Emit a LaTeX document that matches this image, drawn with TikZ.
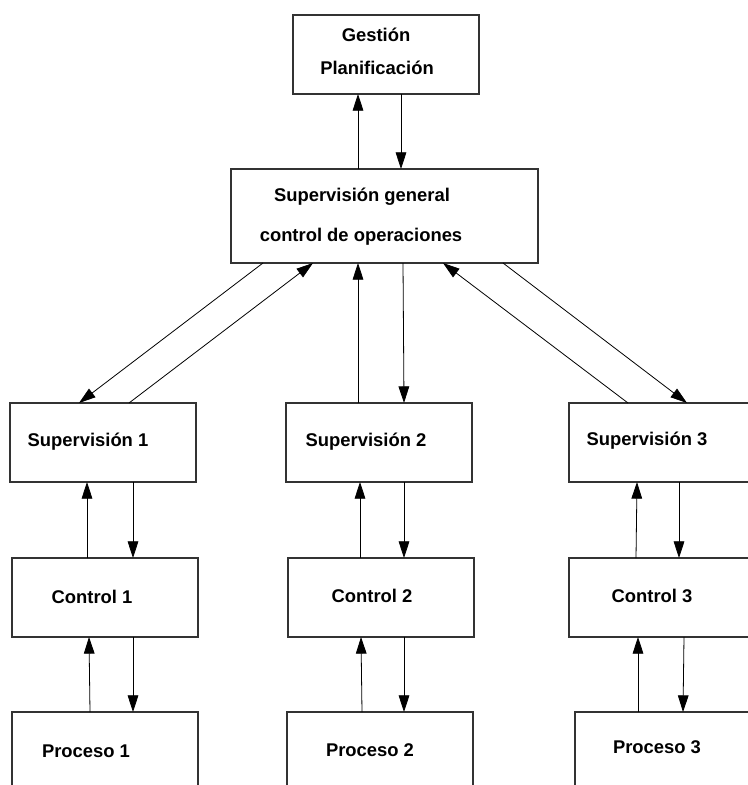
\documentclass[tikz,border=0pt]{standalone}
\usepackage{fontspec}
\setmainfont{Liberation Sans}
\usetikzlibrary{arrows.meta,calc}
\begin{document}
\begin{tikzpicture}[x=0.75pt,y=-0.75pt,
  box/.style={draw=black!80,line width=0.8pt,inner sep=0pt,outer sep=0pt,anchor=north west},
  wbox/.style={box,minimum width=139.5pt,minimum height=59.25pt},
  pbox/.style={box,minimum width=139.5pt,minimum height=70pt},
  lbl/.style={font=\fontsize{13.8}{16}\selectfont\bfseries,inner sep=0pt},
  conn/.style={line width=0.6pt,-{Triangle[length=12.5pt,width=8pt]}}]
\useasboundingbox (0,0) rectangle (748,785);
% boxes
\node[box,minimum width=139.5pt,minimum height=59.25pt] (gest) at (293,15) {};
\node[box,minimum width=230.25pt,minimum height=70.5pt] (gen) at (231,169) {};
\node[wbox] (sup1) at (10,403) {};
\node[wbox] (sup2) at (286,403) {};
\node[wbox] (sup3) at (569,403) {};
\node[wbox] (ctl1) at (12,558) {};
\node[wbox] (ctl2) at (288,558) {};
\node[wbox] (ctl3) at (569,558) {};
\node[pbox] (proc1) at (12,712) {};
\node[pbox] (proc2) at (287,712) {};
\node[pbox] (proc3) at (575,712) {};
% texts
\node[lbl] (t1) at (376,35) {Gestión};
\node[lbl] (t2) at (377,68) {Planificación};
\node[lbl] (t3) at (362,197) {Supervisión general};
\node[lbl] (t4) at (361,237) {control de operaciones};
\node[lbl] (t5) at (88,442) {Supervisión 1};
\node[lbl] (t6) at (366,442) {Supervisión 2};
\node[lbl] (t7) at (647,441) {Supervisión 3};
\node[lbl] (t8) at (92,597) {Control 1};
\node[lbl] (t9) at (372,596) {Control 2};
\node[lbl] (t10) at (652,596) {Control 3};
\node[lbl] (t11) at (86,751) {Proceso 1};
\node[lbl] (t12) at (370,750) {Proceso 2};
\node[lbl] (t13) at (657,747) {Proceso 3};
% connectors: gestion <-> general
\draw[conn] ($(gen.north west)+(127,0)$) -- ($(gest.south west)+(65,0)$);
\draw[conn] ($(gest.south west)+(108,0)$) -- ($(gen.north west)+(170,0)$);
% general <-> supervision
\draw[conn] ($(gen.south west)+(32,0)$) -- ($(sup1.north west)+(69,0)$);
\draw[conn] ($(sup1.north west)+(119,0)$) -- ($(gen.south west)+(82,0)$);
\draw[conn] ($(sup2.north west)+(72,0)$) -- ($(gen.south west)+(127,0)$);
\draw[conn] ($(gen.south west)+(172,0)$) -- ($(sup2.north west)+(118,0)$);
\draw[conn] ($(sup3.north west)+(59,0)$) -- ($(gen.south west)+(212,0)$);
\draw[conn] ($(gen.south west)+(272,0)$) -- ($(sup3.north west)+(118,0)$);
% supervision <-> control
\draw[conn] ($(ctl1.north west)+(75,0)$) -- ($(sup1.south west)+(77,0)$);
\draw[conn] ($(sup1.south west)+(123,0)$) -- ($(ctl1.north west)+(121,0)$);
\draw[conn] ($(ctl2.north west)+(72,0)$) -- ($(sup2.south west)+(74,0)$);
\draw[conn] ($(sup2.south west)+(118,0)$) -- ($(ctl2.north west)+(116,0)$);
\draw[conn] ($(ctl3.north west)+(67,0)$) -- ($(sup3.south west)+(68,0)$);
\draw[conn] ($(sup3.south west)+(110,0)$) -- ($(ctl3.north west)+(110,0)$);
% control <-> proceso
\draw[conn] ($(proc1.north west)+(78,0)$) -- ($(ctl1.south west)+(77,0)$);
\draw[conn] ($(ctl1.south west)+(121,0)$) -- ($(proc1.north west)+(121,0)$);
\draw[conn] ($(proc2.north west)+(75,0)$) -- ($(ctl2.south west)+(73,0)$);
\draw[conn] ($(ctl2.south west)+(116,0)$) -- ($(proc2.north west)+(117,0)$);
\draw[conn] ($(proc3.north west)+(63,0)$) -- ($(ctl3.south west)+(69,0)$);
\draw[conn] ($(ctl3.south west)+(115,0)$) -- ($(proc3.north west)+(108,0)$);
\end{tikzpicture}
\end{document}
